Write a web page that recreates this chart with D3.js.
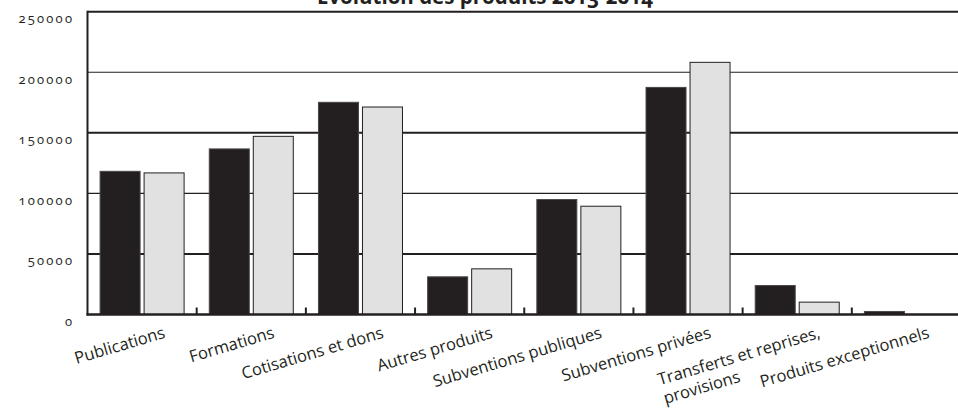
<!DOCTYPE html>
<html>
<head>
<meta charset="utf-8">
<script src="https://cdn.jsdelivr.net/npm/d3@7"></script>
<style>
  html, body { margin: 0; padding: 0; background: #fff; overflow: hidden; }
  svg { display: block; }
  .ylab { font-family: "Open Sans", sans-serif; font-size: 13px; fill: #231f20;
          font-variant-numeric: oldstyle-nums; font-feature-settings: "onum" 1; letter-spacing: 2.2px; }
  .xlab { font-family: "Open Sans", sans-serif; font-size: 16.5px; fill: #231f20; }
  .title { font-family: "Open Sans", sans-serif; font-size: 20.5px; font-weight: bold; fill: #231f20;
           font-variant-numeric: oldstyle-nums; font-feature-settings: "onum" 1; }
</style>
</head>
<body>
<svg id="chart" width="958" height="416"></svg>
<script>
// Produits par poste, 2013 et 2014
const categories = [
  "Publications",
  "Formations",
  "Cotisations et dons",
  "Autres produits",
  "Subventions publiques",
  "Subventions privées",
  "Transferts et reprises,\nprovisions",
  "Produits exceptionnels"
];
const years = ["2013", "2014"];
const values2013 = [118200, 136700, 175200, 31100, 94900, 187500, 23900, 2500];
const values2014 = [116900, 147100, 171300, 37700, 89400, 208200, 10200, 0];
const yTicks = [0, 50000, 100000, 150000, 200000, 250000];
const titleText = "Evolution des produits 2013-2014";

const ink = "#231f20";
const fills = { "2013": "#231f20", "2014": "#e1e1e1" };

const svg = d3.select("#chart");
const plotLeft = 87.5, plotRight = 961, plotTop = 11.7, plotBottom = 314.5;

const x = d3.scaleBand().domain(categories).range([plotLeft, plotRight]).padding(0);
const x1 = d3.scaleBand().domain(years).range([0, x.bandwidth()])
  .paddingInner(0.0909).paddingOuter(0.286);
const y = d3.scaleLinear().domain([0, 250000]).range([plotBottom, plotTop]);

// horizontal gridlines
const gridWidth = { 50000: 2, 100000: 1.2, 150000: 2, 200000: 1.2, 250000: 2 };
svg.append("g").selectAll("line")
  .data(yTicks.filter(d => d > 0))
  .join("line")
  .attr("x1", plotLeft).attr("x2", 958)
  .attr("y1", d => y(d)).attr("y2", d => y(d))
  .attr("stroke", ink).attr("stroke-width", d => gridWidth[d]);

// y-axis labels
svg.append("g").selectAll("text")
  .data(yTicks)
  .join("text")
  .attr("class", "ylab")
  .attr("x", 74.2).attr("y", d => y(d) + 11.5)
  .attr("text-anchor", "end")
  .text(d => d);

// bars
const rows = categories.map((c, i) => ({ cat: c, vals: [values2013[i], values2014[i]] }));
const groups = svg.append("g").selectAll("g")
  .data(rows).join("g")
  .attr("transform", d => `translate(${x(d.cat)},0)`);
groups.selectAll("rect")
  .data(d => d.vals.map((v, j) => ({ year: years[j], v })).filter(e => e.v > 0))
  .join("rect")
  .attr("x", d => x1(d.year))
  .attr("width", x1.bandwidth())
  .attr("y", d => y(d.v))
  .attr("height", d => plotBottom - y(d.v))
  .attr("fill", d => fills[d.year])
  .attr("stroke", d => d.year === "2013" ? "#4a4647" : ink)
  .attr("stroke-width", 1);

// axis frame
svg.append("line").attr("x1", plotLeft).attr("x2", plotLeft).attr("y1", plotTop - 1).attr("y2", plotBottom + 1)
  .attr("stroke", ink).attr("stroke-width", 2);
svg.append("line").attr("x1", plotLeft - 1).attr("x2", 958).attr("y1", plotBottom).attr("y2", plotBottom)
  .attr("stroke", ink).attr("stroke-width", 2.5);

// category separator ticks
svg.append("g").selectAll("line")
  .data(categories.slice(1))
  .join("line")
  .attr("x1", d => x(d)).attr("x2", d => x(d))
  .attr("y1", plotBottom - 7).attr("y2", plotBottom)
  .attr("stroke", ink).attr("stroke-width", 2);

// rotated category labels, right end tied to the group centre
const angle = -16.5;
const lineH = 19.5;
const labels = svg.append("g").selectAll("g")
  .data(categories).join("g")
  .attr("transform", d => `translate(${x(d) + x.bandwidth() / 2 + 24},337.5) rotate(${angle})`);
labels.each(function (d) {
  const g = d3.select(this);
  const lines = d.split("\n");
  const first = g.append("text").attr("class", "xlab").attr("text-anchor", "end").text(lines[0]);
  const w = first.node().getComputedTextLength();
  lines.slice(1).forEach((ln, k) => {
    g.append("text").attr("class", "xlab").attr("text-anchor", "start")
      .attr("x", -w).attr("y", lineH * (k + 1)).text(ln);
  });
});

// title
svg.append("text").attr("class", "title")
  .attr("x", 485).attr("y", 3.5).attr("text-anchor", "middle")
  .text(titleText);
</script>
</body>
</html>
